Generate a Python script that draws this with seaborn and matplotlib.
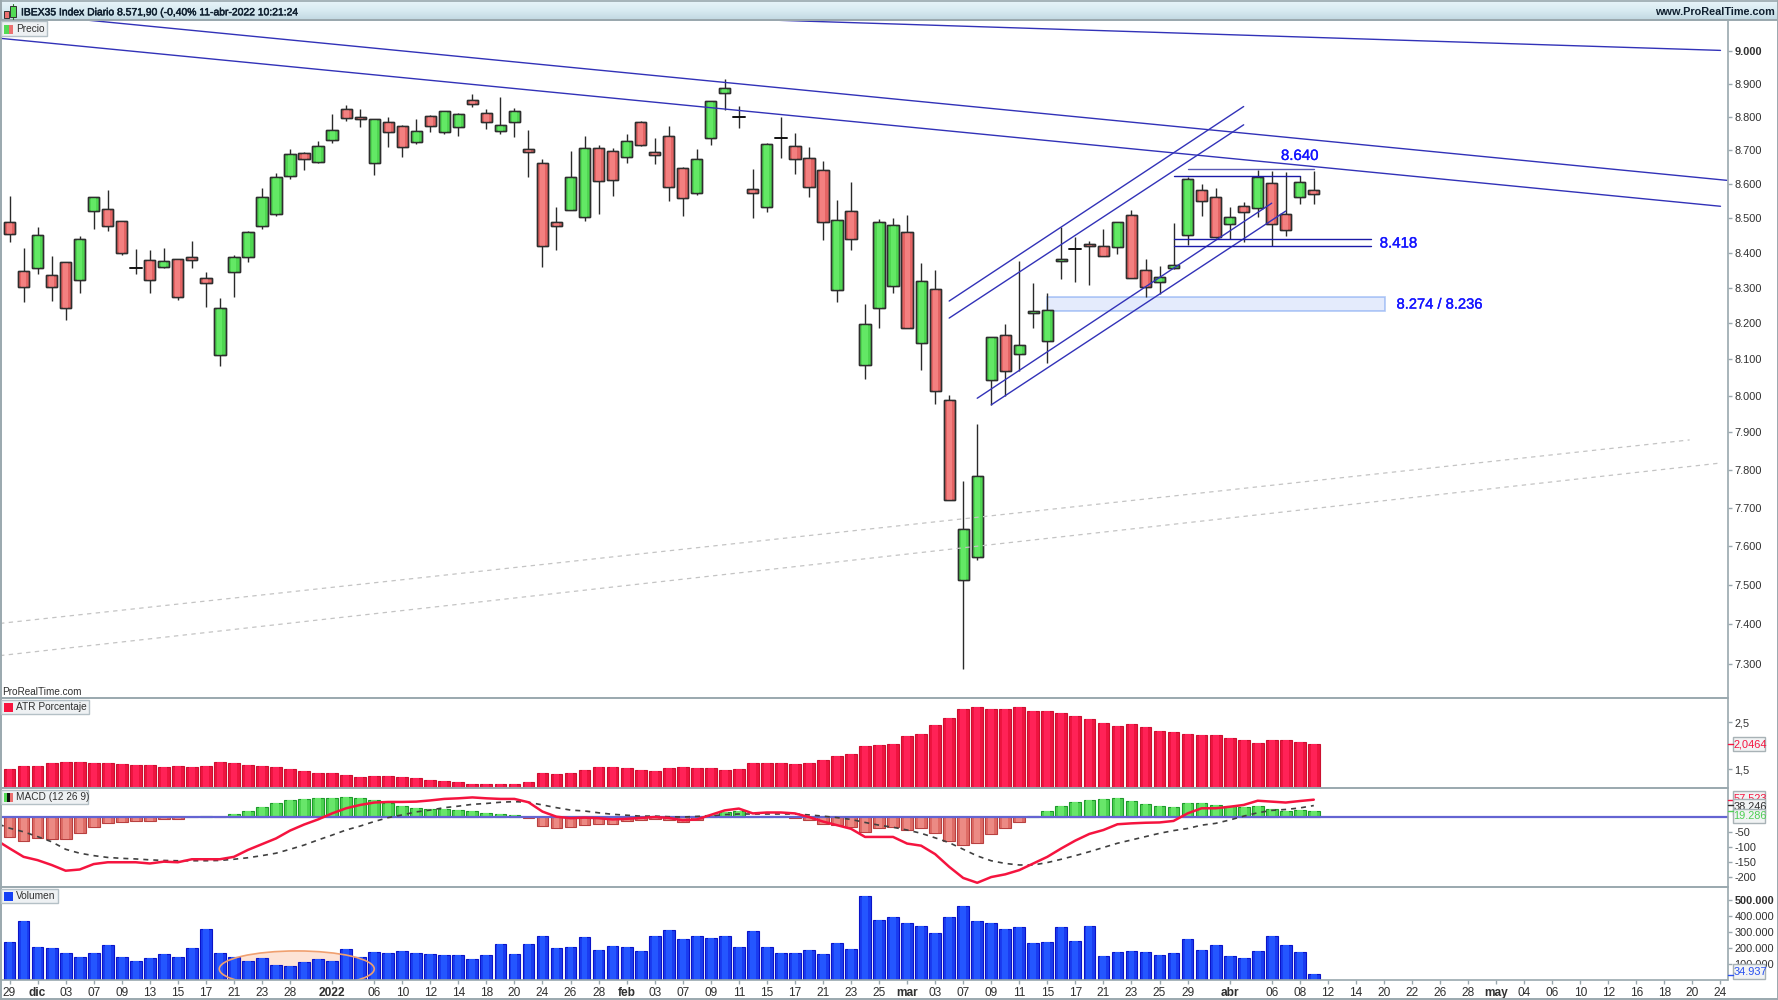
import numpy as np
import pandas as pd
import matplotlib
matplotlib.use('Agg')
import matplotlib.pyplot as plt
import matplotlib.patheffects as pe
from matplotlib.patches import Ellipse, Rectangle
import seaborn as sns

# ---- datos ----
opens = [8489,8347,8358,8337,8373,8323,8522,8528,8492,8359,8381,8359,8384,8387,8329,8112,8344,8389,8477,8512,
         8623,8691,8666,8730,8823,8800,8663,8784,8772,8726,8802,8755,8769,8850,8811,8758,8783,8703,8662,8489,
         8525,8504,8706,8697,8681,8785,8695,8742,8648,8575,8736,8873,8799,8585,8534,8738,8714,8678,8640,8294,
         8520,8084,8243,8305,8461,8146,8298,7988,7511,7570,8044,8167,8114,8229,8150,8376,8413,8425,8419,8417,
         8509,8352,8316,8356,8451,8582,8563,8482,8535,8531,8602,8512,8563,8582]
closes = [8455,8304,8453,8302,8242,8440,8561,8479,8399,8358,8323,8378,8275,8381,8313,8242,8387,8459,8563,8622,
          8688,8675,8714,8761,8797,8792,8793,8753,8709,8756,8772,8817,8808,8838,8783,8775,8817,8694,8419,8479,
          8620,8706,8610,8612,8729,8715,8687,8590,8558,8675,8847,8887,8798,8574,8719,8736,8673,8590,8488,8494,
          8440,8198,8488,8480,8188,8320,8012,7719,7644,7783,8163,8069,8141,8234,8237,8382,8411,8419,8390,8489,
          8328,8304,8331,8366,8615,8549,8446,8503,8519,8622,8483,8467,8607,8572]
highs = [8565,8414,8474,8390,8373,8449,8561,8582,8492,8411,8408,8414,8384,8435,8345,8271,8395,8462,8587,8634,
         8703,8696,8728,8809,8837,8823,8793,8799,8775,8793,8806,8817,8812,8868,8823,8859,8826,8761,8673,8532,
         8698,8743,8716,8706,8747,8788,8737,8773,8650,8703,8849,8913,8834,8644,8722,8799,8751,8709,8667,8553,
         8607,8255,8497,8502,8510,8372,8352,8002,7770,7924,8163,8199,8378,8314,8287,8474,8447,8435,8468,8489,
         8524,8382,8363,8486,8622,8600,8587,8534,8547,8642,8638,8635,8624,8638]
lows = [8430,8259,8341,8263,8210,8287,8470,8463,8394,8339,8287,8357,8267,8356,8245,8082,8275,8373,8468,8508,
        8616,8642,8661,8723,8786,8768,8628,8710,8679,8718,8754,8749,8741,8829,8762,8749,8738,8622,8361,8407,
        8525,8491,8513,8565,8663,8714,8660,8551,8508,8569,8715,8819,8765,8502,8519,8676,8630,8562,8438,8261,
        8409,8047,8186,8285,8188,8071,7977,7719,7286,7564,7975,7998,8069,8188,8091,8325,8316,8309,8390,8398,
        8328,8274,8283,8355,8424,8508,8443,8441,8430,8505,8419,8449,8543,8543]
atr = [1.506,1.563,1.563,1.627,1.648,1.648,1.627,1.627,1.605,1.584,1.584,1.542,1.563,1.542,1.563,1.648,1.627,1.584,1.563,1.542,
       1.513,1.471,1.428,1.414,1.371,1.329,1.350,1.350,1.329,1.308,1.272,1.251,1.230,1.194,1.194,1.194,1.180,1.230,1.414,1.393,
       1.428,1.492,1.549,1.549,1.527,1.492,1.471,1.527,1.549,1.527,1.527,1.492,1.513,1.627,1.627,1.627,1.605,1.627,1.705,1.783,
       1.825,2.003,2.024,2.045,2.201,2.244,2.435,2.591,2.790,2.832,2.790,2.790,2.832,2.747,2.733,2.691,2.634,2.570,2.492,2.414,
       2.457,2.393,2.315,2.300,2.258,2.222,2.222,2.159,2.116,2.059,2.116,2.116,2.081,2.046]
macd_hist = [-65,-78.5,-68.5,-72,-72,-53,-32,-19,-16.6,-13,-13,-8,-8,-1,4,0,9,19,34,46,
             55,59,62,62,65,62,55,46,36.5,31,28,25,22,19,12,9,5.5,-3,-29,-37.6,
             -34,-25,-22,-22,-13,-9,-5.5,-10,-16.6,-10,6.6,15,19,3,3,3,-3,-10,-22,-25,
             -32,-50,-37.6,-32,-43,-37.6,-53,-78.5,-93,-87,-55,-37.6,-15.5,3,19,36.5,48.6,55,59,62,
             52,42,36.5,33,45,45,40,35,33,36.5,28,19,22,19.3]
macd_line = [-104,-132,-143,-159,-178,-174,-156,-150,-150,-150,-154,-148,-150,-140,-140,-140,-132,-109,-90,-71,
             -45,-25,-8,12,29,40,48,50,50,51,55,60,62,65,62,60,60,49,18,1,
             -4,-2,-4,-8,-6,-3,0,-3,-11,-8,7,22,28,12,15,15,12,0,-15,-27,
             -39,-66,-66,-66,-88,-95,-123,-165,-202,-218,-199,-190,-176,-154,-132,-104,-78,-56,-43,-24,
             -21,-19,-18,-13,12,29,29,34,40,54,51,48,53,57.5]
macd_signal = [-37,-49,-65,-82,-107,-120,-128,-134,-137,-139,-142,-144,-145,-145,-145,-144,-140,-135,-128,-120,
               -107,-93,-76,-60,-43,-30,-15,-2,7,17,23,31,36,42,45,49,51,49,40,31,
               23,20,14,9,6,3,3,1,0,2,4,8,10,10,10,10,10,7,3,-2,
               -8,-18,-27,-34,-43,-54,-69,-85,-107,-129,-145,-154,-159,-159,-151,-140,-128,-115,-101,-87,
               -76,-65,-54,-45,-38,-27,-21,-10,3,14,22,25,30,38]
# la sesion anterior, que queda cortada por el borde izquierdo
macd_prev = -75
signal_prev = -20
volume = [237,367,204,198,167,146,169,221,146,117,140,162,146,198,319,167,146,117,140,94,
          87,110,129,117,192,146,173,167,179,167,162,156,156,133,156,227,162,227,273,198,
          204,267,185,215,208,179,273,312,254,277,260,277,208,308,204,167,167,185,162,231,
          192,523,377,394,358,335,296,394,462,371,354,319,329,231,237,329,244,335,150,173,
          179,173,156,167,254,185,221,150,140,179,273,221,173,35]

x_tick_pos = [0,2,4,6,8,10,12,14,16,18,20,23,26,28,30,32,34,36,38,40,42,44,46,48,50,52,54,56,58,60,62,64,66,68,70,72,
              74,76,78,80,82,84,87,90,92,94,96,98,100,102,104,106,108,110,112,114,116,118,120,122]
x_tick_lbl = ['29','dic','03','07','09','13','15','17','21','23','28','2022','06','10','12','14','18','20','24','26','28',
              'feb','03','07','09','11','15','17','21','23','25','mar','03','07','09','11','15','17','21','23','25','29',
              'abr','06','08','12','14','20','22','26','28','may','04','06','10','12','16','18','20','24']
x_bold = ['dic','2022','feb','mar','abr','may']
price_ticks = [9000,8900,8800,8700,8600,8500,8400,8300,8200,8100,8000,7900,7800,7700,7600,7500,7400,7300]
price_labels = ['9.000','8.900','8.800','8.700','8.600','8.500','8.400','8.300','8.200','8.100','8.000','7.900',
                '7.800','7.700','7.600','7.500','7.400','7.300']

# lineas dibujadas a mano: (x0, precio0, x1, precio1)
resist_lines = [(-0.61,9039,122.0,8535),(5.45,9096,122.45,8611),(54.2,9096,122.0,9002)]
channel_lines = [(67,8263,88,8831),(67,8215,88,8776),(69,7993,90,8544),(70,7975,91,8521)]
level_lines = [(84,93,8643,'#5a5ab4'),(83,92,8623,'#1a1aa8'),(83,97.1,8440,'#1a1aa8'),(83,97.1,8421,'#1a1aa8')]
dash_lines = [(-0.68,7401,119.8,7880),(-0.68,7320,122,7818)]
zone = (74.0,98.06,8236,8274)

idx = np.arange(len(opens))
df = pd.DataFrame({'idx': idx, 'open': opens, 'close': closes, 'high': highs, 'low': lows, 'atr': atr,
                   'hist': macd_hist, 'macd': macd_line, 'signal': macd_signal, 'vol': volume})
df['sign'] = np.where(df['hist'] >= 0, 'up', 'down')
lines_df = pd.DataFrame({'idx': np.r_[-1, idx], 'macd': [macd_prev] + macd_line, 'signal': [signal_prev] + macd_signal})

sns.set_theme(style='white')
plt.rcParams['font.family'] = ['Liberation Sans', 'DejaVu Sans']
plt.rcParams['axes.linewidth'] = 0

W, H = 1778, 1000
fig = plt.figure(figsize=(W / 100, H / 100), dpi=100, facecolor='white')
AXC = '#9aa8ae'
TXT = '#303030'
X0, X1 = 1, 1727.5
XLIM = (-0.61, 122.5)
BAR_W = 0.84
CORE_W = 0.42


def panel(top, bottom):
    ax = fig.add_axes([X0 / W, 1 - bottom / H, (X1 - X0) / W, (bottom - top) / H])
    ax.set_facecolor('white')
    ax.yaxis.tick_right()
    ax.tick_params(axis='y', which='major', right=True, left=False, length=3, width=1, color=AXC,
                   labelsize=7.9, labelcolor=TXT, pad=2)
    ax.tick_params(axis='x', bottom=False, labelbottom=False)
    return ax


def finish(ax):
    ax.set_xlim(*XLIM)
    ax.set_xlabel('')
    ax.set_ylabel('')
    ax.grid(False)


# precio
ax = panel(20, 698.3)
ax.set_yscale('log')
for i, row in df.iterrows():
    ax.plot([i, i], [row['low'], row['high']], color='#2a2a2a', lw=1.0, solid_capstyle='butt', zorder=2)
    low_body, high_body = sorted([row['open'], row['close']])
    diff = row['close'] - row['open']
    if abs(diff) <= 2:
        ax.plot([i - 0.42, i + 0.42], [row['close']] * 2, color='#111111', lw=1.4, zorder=3)
    else:
        base, core = ('#4fd651', '#63e865') if diff > 0 else ('#e46464', '#f38080')
        ax.add_patch(Rectangle((i - 0.4, low_body), 0.8, high_body - low_body, facecolor=base,
                               edgecolor='#2e2e2e', lw=1.0, zorder=3))
        ax.add_patch(Rectangle((i - 0.18, low_body), 0.36, high_body - low_body, facecolor=core,
                               edgecolor='none', zorder=3.1))
        ax.add_patch(Rectangle((i - 0.4, low_body), 0.8, high_body - low_body, facecolor='none',
                               edgecolor='#2e2e2e', lw=1.0, zorder=3.2))
for x0, p0, x1, p1 in dash_lines:
    ax.plot([x0, x1], [p0, p1], color='#c4c4c4', lw=0.9, ls=(0, (3.5, 3.5)), zorder=4)
for x0, p0, x1, p1 in resist_lines + channel_lines:
    ax.plot([x0, x1], [p0, p1], color='#3232b8', lw=1.0, zorder=4)
for x0, x1, p, col in level_lines:
    ax.plot([x0, x1], [p, p], color=col, lw=1.0, zorder=4)
ax.add_patch(Rectangle((zone[0], zone[2]), zone[1] - zone[0], zone[3] - zone[2], facecolor='#cfdcfa', alpha=0.55,
                       edgecolor='#6f9cf0', lw=1.2, zorder=1))
label_fx = [pe.withStroke(linewidth=0.25, foreground='#1414ff')]
ax.text(92.0, 8683, '8.640', color='#1414ff', fontsize=10.8, va='center', ha='center', path_effects=label_fx)
ax.text(97.7, 8427, '8.418', color='#1414ff', fontsize=10.8, va='center', ha='left', path_effects=label_fx)
ax.text(98.9, 8253, '8.274 / 8.236', color='#1414ff', fontsize=10.6, va='center', ha='left', path_effects=label_fx)
finish(ax)
ax.set_ylim(7214, 9096)
ax.minorticks_off()
ax.set_yticks(price_ticks, price_labels)
ax.yaxis.set_minor_locator(matplotlib.ticker.NullLocator())
ax.get_yticklabels()[0].set_fontweight('bold')

# ATR
ax = panel(698.3, 788.3)
sns.barplot(data=df, x='idx', y='atr', native_scale=True, width=BAR_W, color='#ee1440', saturation=1,
            edgecolor='#cc1030', linewidth=0.8, ax=ax)
sns.barplot(data=df, x='idx', y='atr', native_scale=True, width=CORE_W, color='#ff2257', saturation=1,
            linewidth=0, ax=ax)
finish(ax)
ax.set_ylim(1.096, 3.01)
ax.set_yticks([1.5, 2.5], ['1,5', '2,5'])

# MACD
ax = panel(788.3, 887.3)
sns.barplot(data=df, x='idx', y='hist', hue='sign', palette={'up': '#4cd250', 'down': '#de6c66'},
            hue_order=['up', 'down'], dodge=False, native_scale=True, width=BAR_W, saturation=1,
            legend=False, ax=ax)
for p in ax.patches:
    p.set_edgecolor('#1f9a2c' if p.get_height() > 0 else '#b84040')
    p.set_linewidth(0.8)
sns.barplot(data=df, x='idx', y='hist', hue='sign', palette={'up': '#68e66a', 'down': '#ec8a84'},
            hue_order=['up', 'down'], dodge=False, native_scale=True, width=CORE_W, saturation=1,
            legend=False, linewidth=0, ax=ax)
ax.axhline(0, color='#6464d2', lw=1.6, zorder=5)
sns.lineplot(data=lines_df, x='idx', y='signal', color='#404040', lw=1.2, linestyle=(0, (3, 3)), ax=ax, zorder=6)
sns.lineplot(data=lines_df, x='idx', y='macd', color='#f5143f', lw=1.8, ax=ax, zorder=7)
finish(ax)
ax.set_ylim(-233, 95.2)
ax.set_yticks([-200, -150, -100, -50], ['-200', '-150', '-100', '-50'])

# Volumen
ax = panel(887.3, 980)
ax.add_patch(Ellipse((20.48, 69), 11.05, 225, facecolor='#fde3d6', edgecolor='none', zorder=0))
sns.barplot(data=df, x='idx', y='vol', native_scale=True, width=BAR_W, color='#1a3cf0', saturation=1,
            edgecolor='#0a14c8', linewidth=0.8, ax=ax)
sns.barplot(data=df, x='idx', y='vol', native_scale=True, width=CORE_W, color='#2456ff', saturation=1,
            linewidth=0, ax=ax)
ax.add_patch(Ellipse((20.48, 69), 11.05, 225, facecolor='none', edgecolor='#f0a070', lw=1.2, zorder=5))
finish(ax)
ax.set_ylim(0, 579)
ax.set_yticks([100, 200, 300, 400, 500], ['100.000', '200.000', '300.000', '400.000', '500.000'])
ax.get_yticklabels()[-1].set_fontweight('bold')
ax.tick_params(axis='x', bottom=True, labelbottom=True, length=3, width=1, color=AXC, labelsize=8.6,
               labelcolor=TXT, pad=2)
ax.set_xticks(x_tick_pos, x_tick_lbl)
for t in ax.get_xticklabels():
    if t.get_text() in x_bold:
        t.set_fontweight('bold')

# marco, cabecera y etiquetas en pixeles
ui = fig.add_axes([0, 0, 1, 1], zorder=20)
ui.set_xlim(0, W)
ui.set_ylim(H, 0)
ui.axis('off')
ui.patch.set_alpha(0)

grad = np.linspace(0, 1, 20).reshape(-1, 1)
cmap = matplotlib.colors.LinearSegmentedColormap.from_list('hdr', ['#e9f5fa', '#d9ebf2', '#c2d9e2'])
ui.imshow(grad, extent=(0, W, 20, 0), aspect='auto', cmap=cmap, zorder=0)
ui.set_xlim(0, W)
ui.set_ylim(H, 0)

for y in [20, 698.3, 788.3, 887.3]:
    ui.plot([0, X1], [y, y], color=AXC, lw=1.4, zorder=1)
ui.plot([0, W], [0.5, 0.5], color=AXC, lw=1.2, zorder=1)
ui.plot([0, W], [20, 20], color=AXC, lw=1.4, zorder=1)
ui.plot([X1, X1], [20, 980], color=AXC, lw=1.2, zorder=1)
ui.plot([X0, X1], [980, 980], color=AXC, lw=1.2, zorder=1)
ui.plot([0.5, 0.5], [0, H], color=AXC, lw=1.4, zorder=1)
ui.plot([W - 0.5, W - 0.5], [0, H], color=AXC, lw=1.4, zorder=1)
ui.plot([0, W], [999.3, 999.3], color=AXC, lw=1.4, zorder=1)

# icono cabecera
ui.add_patch(Rectangle((3.5, 11), 5, 7, facecolor='#ec7070', edgecolor='#333333', lw=0.7, zorder=2))
ui.add_patch(Rectangle((10, 6), 5.5, 11, facecolor='#53da55', edgecolor='#333333', lw=0.7, zorder=2))
ui.plot([12.7, 12.7], [4, 19], color='#2a7a2a', lw=0.8, zorder=1.5)
hdr_fx = [pe.withStroke(linewidth=0.35, foreground='#102030')]
ui.text(21, 12.3, 'IBEX35 Index Diario 8.571,90 (-0,40% 11-abr-2022 10:21:24', fontsize=7.45, color='#102030',
        va='center', ha='left', zorder=3, path_effects=hdr_fx)
ui.text(1775, 12.3, 'www.ProRealTime.com', fontsize=7.85, color='#102030', va='center', ha='right',
        fontweight='bold', zorder=3)
ui.text(2, 692, 'ProRealTime.com', fontsize=7.2, color=TXT, va='center', ha='left', zorder=3)


def tag(x0, y0, x1, y1, label, swatches):
    ui.add_patch(Rectangle((x0, y0), x1 - x0, y1 - y0, facecolor='#eef1f3', edgecolor='#b4c0c6', lw=1, zorder=2))
    n = len(swatches)
    for k, c in enumerate(swatches):
        ui.add_patch(Rectangle((x0 + 3 + k * 9 / n, y0 + 3.5), 9 / n, 9, facecolor=c, edgecolor='none', zorder=3))
    ui.text(x0 + 15, (y0 + y1) / 2 + 0.4, label, fontsize=7.3, color=TXT, va='center', ha='left', zorder=3)


tag(1, 21, 47, 35.5, 'Precio', ['#53da55', '#ec7070'])
tag(1, 699.5, 89, 714, 'ATR Porcentaje', ['#f8143f'])
tag(1, 789.5, 88, 804, 'MACD (12 26 9)', ['#53da55', '#111111', '#ec7070'])
tag(1, 888.5, 58, 903, 'Volumen', ['#1440f5'])


def val_box(y0, y1, label, col, tick_y):
    ui.add_patch(Rectangle((1732.5, y0), 32.5, y1 - y0, facecolor='#f1f3f4', edgecolor='#a8b2b6', lw=1, zorder=4))
    ui.text(1733.5, (y0 + y1) / 2 + 0.3, label, fontsize=7.9, color=col, va='center', ha='left', zorder=4)
    ui.plot([X1, 1732.5], [tick_y, tick_y], color=col, lw=1, zorder=4)


val_box(736.7, 751, '2,0464', '#f5143f', 744)
val_box(791, 806, '57.523', '#f5143f', 800)
val_box(799, 815, '38.246', '#303030', 805)
val_box(809, 823, '19.286', '#4fcf55', 811)
val_box(964, 979, '34.937', '#2850f0', 974.5)

fig.savefig('out.png', dpi=100, facecolor='white')
plt.close(fig)
